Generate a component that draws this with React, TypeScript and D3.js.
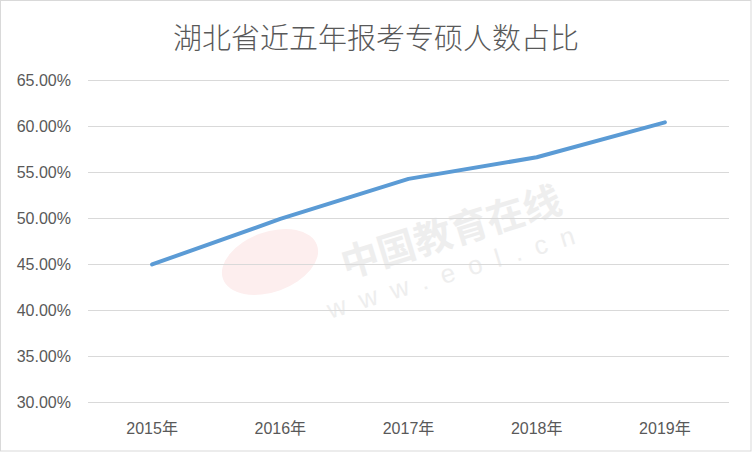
import * as d3 from "d3";

const years = ["2015年", "2016年", "2017年", "2018年", "2019年"];
const shares = [44.95, 49.9, 54.25, 56.6, 60.4];
const yTicks = [30, 35, 40, 45, 50, 55, 60, 65];

export default function App() {
  const width = 752;
  const height = 452;
  const margin = { top: 80, right: 23, bottom: 50, left: 88 };
  const innerWidth = width - margin.left - margin.right;
  const innerHeight = height - margin.top - margin.bottom;

  const xScale = d3.scaleBand().domain(years).range([0, innerWidth]);
  const yScale = d3.scaleLinear().domain([30, 65]).range([innerHeight, 0]);

  const line = d3
    .line<number>()
    .x((_, i) => (xScale(years[i]) ?? 0) + xScale.bandwidth() / 2)
    .y((d) => yScale(d));

  const font = "'Liberation Sans', 'Noto Sans CJK SC', sans-serif";

  return (
    <svg
      width={width}
      height={height}
      style={{ position: "absolute", left: 0, top: 0, background: "white" }}
    >
      <rect x={0.5} y={0.5} width={width - 1.5} height={height - 1.5} fill="white" stroke="#d9d9d9" />
      <text
        x={width / 2}
        y={49}
        textAnchor="middle"
        fontSize={29}
        fontWeight={300}
        fill="#595959"
        fontFamily="'Noto Sans CJK SC', sans-serif"
      >
        湖北省近五年报考专硕人数占比
      </text>

      {/* watermark */}
      <g transform="translate(270,262) rotate(-20)" fill="#fdeeee">
        <ellipse cx={0} cy={0} rx={50} ry={30} />
      </g>
      <g transform="translate(455,245) rotate(-17)" fill="#eeeeee" fontFamily="'Noto Sans CJK SC', sans-serif">
        <text x={0} y={0} textAnchor="middle" fontSize={38} fontWeight="bold">中国教育在线</text>
        <text x={-5} y={34} textAnchor="middle" fontSize={26} letterSpacing={14} fontFamily="'Liberation Sans', sans-serif">www.eol.cn</text>
      </g>

      <g transform={`translate(${margin.left}, ${margin.top})`}>
        {yTicks.map((t) => (
          <g key={t}>
            <line
              x1={0}
              x2={innerWidth}
              y1={Math.round(yScale(t)) + 0.5}
              y2={Math.round(yScale(t)) + 0.5}
              stroke="#d9d9d9"
              strokeWidth={1}
            />
            <text
              x={-17}
              y={yScale(t)}
              dy="0.35em"
              textAnchor="end"
              fontSize={16}
              fill="#595959"
              fontFamily={font}
            >
              {t.toFixed(2)}%
            </text>
          </g>
        ))}
        {years.map((y) => (
          <text
            key={y}
            x={(xScale(y) ?? 0) + xScale.bandwidth() / 2}
            y={innerHeight + 26}
            dy="0.35em"
            textAnchor="middle"
            fontSize={16}
            fill="#595959"
            fontFamily={font}
          >
            {y}
          </text>
        ))}
        <path
          d={line(shares) ?? ""}
          fill="none"
          stroke="#5b9bd5"
          strokeWidth={4}
          strokeLinecap="round"
          strokeLinejoin="round"
        />
      </g>
    </svg>
  );
}
